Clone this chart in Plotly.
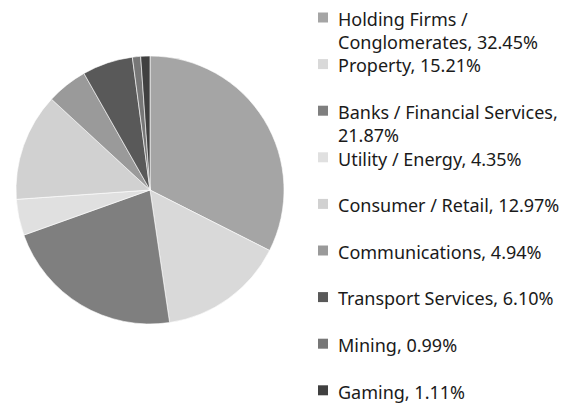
import plotly.graph_objects as go

labels = ["Holding Firms / Conglomerates", "Property", "Banks / Financial Services",
          "Utility / Energy", "Consumer / Retail", "Communications",
          "Transport Services", "Mining", "Gaming"]
values = [32.45, 15.21, 21.87, 4.35, 12.97, 4.94, 6.10, 0.99, 1.11]
legend_text = ["Holding Firms /<br>Conglomerates, 32.45%", "Property, 15.21%",
               "Banks / Financial Services,<br>21.87%", "Utility / Energy, 4.35%",
               "Consumer / Retail, 12.97%", "Communications, 4.94%",
               "Transport Services, 6.10%", "Mining, 0.99%", "Gaming, 1.11%"]
colors = ["#a5a5a5", "#d9d9d9", "#7f7f7f", "#e0e0e0", "#d1d1d1",
          "#9a9a9a", "#595959", "#777777", "#404040"]

W, H = 579, 403
fig = go.Figure()
fig.add_trace(go.Pie(
    labels=labels, values=values, sort=False, direction="clockwise", rotation=0,
    marker=dict(colors=colors, line=dict(color="white", width=0.6)),
    textinfo="none", hoverinfo="label+percent", showlegend=False,
    domain=dict(x=[16 / W, 284 / W], y=[(H - 324) / H, (H - 56) / H]),
))

fs = 18
first_y = 17.5
step = 46.6
shapes = []
annotations = []
for i, (t, c) in enumerate(zip(legend_text, colors)):
    yc = first_y + i * step
    shapes.append(dict(type="rect", xref="paper", yref="paper",
                       x0=318 / W, x1=328 / W, y0=(H - yc - 5) / H, y1=(H - yc + 5) / H,
                       fillcolor=c, line=dict(width=0)))
    annotations.append(dict(xref="paper", yref="paper", x=336 / W,
                            y=(H - (yc - fs * 0.65 - 1)) / H,
                            xanchor="left", yanchor="top", align="left",
                            showarrow=False, text=t,
                            font=dict(family="Noto Sans", size=fs, color="#1a1a1a")))

fig.update_layout(width=W, height=H, margin=dict(l=0, r=0, t=0, b=0),
                  paper_bgcolor="white", plot_bgcolor="white",
                  shapes=shapes, annotations=annotations)
fig.write_html("out.html", config={"displayModeBar": False},
               post_script="document.body.style.margin='0';document.body.style.overflow='hidden';")
